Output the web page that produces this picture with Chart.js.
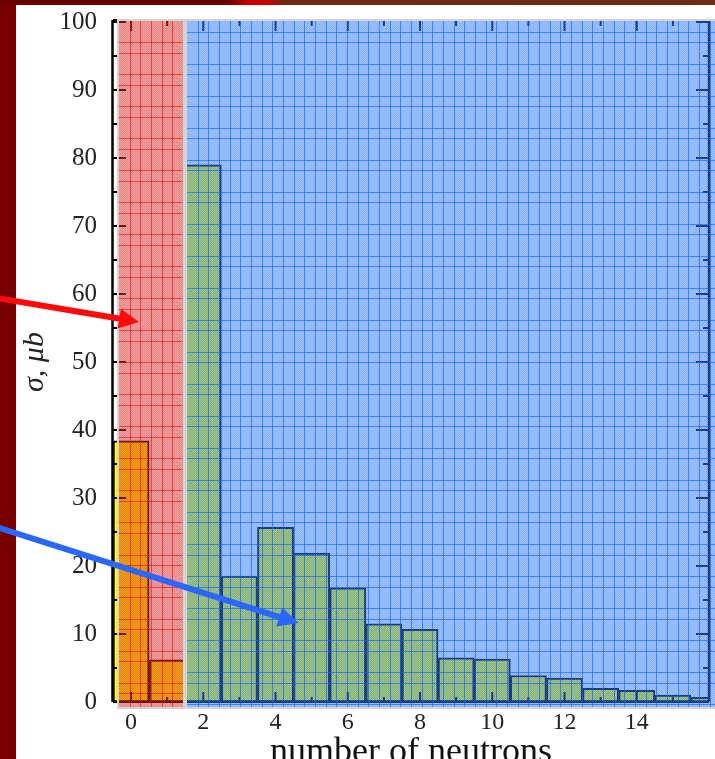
<!DOCTYPE html>
<html>
<head>
<meta charset="utf-8">
<script src="https://cdn.jsdelivr.net/npm/chart.js@4.4.1/dist/chart.umd.min.js"></script>
<style>
  html, body { margin: 0; padding: 0; background: #fff; }
  #wrap { position: relative; width: 715px; height: 759px; overflow: hidden; background: #fff; }
  #edgeLeft { position: absolute; left: 0; top: 0; width: 16px; height: 759px; background: #7a0000; }
  #edgeTop { position: absolute; left: 0; top: 0; width: 715px; height: 5px;
    background: linear-gradient(90deg, #6c0000 0, #6c0000 228px, #c40000 248px, #c80404 268px, #6d2a12 285px, #6d2c14 100%); }
  #c { position: absolute; left: 0; top: 0; }
</style>
</head>
<body>
<div id="wrap">
  <div id="edgeLeft"></div>
  <div id="edgeTop"></div>
  <canvas id="c" width="715" height="759"></canvas>
</div>
<script>
// Cross section per number of emitted neutrons
const neutrons = [0, 1, 2, 3, 4, 5, 6, 7, 8, 9, 10, 11, 12, 13, 14, 15, 16];
const sigma    = [38.4, 6.2, 79.0, 18.5, 25.7, 21.9, 16.8, 11.5, 10.7, 6.5, 6.3, 3.9, 3.5, 2.0, 1.7, 1.0, 0.7];

// Axis tick values
const xTicks = [0, 2, 4, 6, 8, 10, 12, 14];
const yTicks = [0, 10, 20, 30, 40, 50, 60, 70, 80, 90, 100];

// Shaded regions (in neutron-number units) and their tints
const regions = [
  { from: -0.34, to: 1.44, fill: 'rgba(211,0,0,0.46)', line: 'rgba(225,0,0,0.55)', skip: 1 },
  { from: 1.56, to: 16.2, fill: 'rgba(6,95,255,0.47)', line: 'rgba(0,95,255,0.6)', skip: 0 }
];

// Pointer arrows: tail and head in axis units
const arrows = [
  { from: [-3.7, 59.4], to: [0.22, 55.9], color: '#ff0a0a' },
  { from: [-3.7, 25.7], to: [4.63, 11.6], color: '#2a66ff' }
];

function checkerPattern(ctx) {
  const c = document.createElement('canvas');
  c.width = 2; c.height = 2;
  const g = c.getContext('2d');
  g.fillStyle = 'rgba(255,255,255,0.16)';
  g.fillRect(0, 0, 1, 1);
  g.fillRect(1, 1, 1, 1);
  return ctx.createPattern(c, 'repeat');
}

function drawArrow(ctx, x0, y0, x1, y1, color) {
  const lw = 6, headLen = 20, headHalf = 10;
  const a = Math.atan2(y1 - y0, x1 - x0);
  const bx = x1 - headLen * Math.cos(a), by = y1 - headLen * Math.sin(a);
  ctx.strokeStyle = color; ctx.fillStyle = color; ctx.lineWidth = lw; ctx.lineCap = 'butt';
  ctx.beginPath(); ctx.moveTo(x0, y0); ctx.lineTo(bx + Math.cos(a), by + Math.sin(a)); ctx.stroke();
  ctx.beginPath();
  ctx.moveTo(x1, y1);
  ctx.lineTo(bx + headHalf * Math.sin(a), by - headHalf * Math.cos(a));
  ctx.lineTo(bx - headHalf * Math.sin(a), by + headHalf * Math.cos(a));
  ctx.closePath(); ctx.fill();
}

const decor = {
  id: 'decor',
  afterDatasetsDraw(chart) {
    const ctx = chart.ctx;
    const { left, right, top, bottom } = chart.chartArea;
    const xs = chart.scales.x, ys = chart.scales.y;
    ctx.save();

    // frame
    ctx.strokeStyle = '#000';
    ctx.lineWidth = 2.5;
    ctx.beginPath();
    ctx.moveTo(left - 0.5, top - 2); ctx.lineTo(left - 0.5, bottom);
    ctx.moveTo(right, top - 2); ctx.lineTo(right, bottom);
    ctx.stroke();
    ctx.lineWidth = 2;
    ctx.beginPath();
    ctx.moveTo(left, bottom); ctx.lineTo(right, bottom);
    ctx.moveTo(left, top - 2); ctx.lineTo(right, top - 2);
    ctx.stroke();

    // inward tick marks
    ctx.lineWidth = 2;
    ctx.beginPath();
    for (let v = 0; v <= 100; v += 5) {
      const y = ys.getPixelForValue(v);
      const len = v % 10 === 0 ? 13 : 6;
      ctx.moveTo(left, y); ctx.lineTo(left + len, y);
      ctx.moveTo(right, y); ctx.lineTo(right - len, y);
    }
    for (let n = 0; n <= 15; n++) {
      const x = xs.getPixelForValue(n);
      const len = n % 2 === 0 ? 10 : 5;
      ctx.moveTo(x, bottom); ctx.lineTo(x, bottom - len);
      ctx.moveTo(x, top - 2); ctx.lineTo(x, top - 2 + len + 1);
    }
    ctx.stroke();

    // tinted regions with grid-paper texture
    const pat = checkerPattern(ctx);
    const pitch = 10.67;
    regions.forEach(r => {
      const x0 = Math.round(xs.getPixelForValue(r.from));
      const x1 = Math.min(chart.width, Math.round(xs.getPixelForValue(r.to)));
      const y0 = top - 1, y1 = bottom + 5;
      ctx.fillStyle = r.fill;
      ctx.fillRect(x0, y0, x1 - x0, y1 - y0);
      ctx.fillStyle = pat;
      ctx.fillRect(x0, y0, x1 - x0, y1 - y0);
      ctx.strokeStyle = r.line;
      ctx.lineWidth = 1;
      ctx.beginPath();
      for (let x = x0 + pitch; x < x1 - 1; x += pitch) {
        const px = Math.round(x) + 0.5;
        ctx.moveTo(px, y0); ctx.lineTo(px, y1);
      }
      for (let k = 1; y0 + k * pitch < y1 - 1; k++) {
        if (k % 3 === r.skip) continue;
        const py = Math.round(y0 + k * pitch) + 0.5;
        ctx.moveTo(x0, py); ctx.lineTo(x1, py);
      }
      ctx.stroke();
      ctx.strokeStyle = '#d4d4d4';
      ctx.lineWidth = 2;
      ctx.strokeRect(x0 - 1, y0 - 1, x1 - x0 + 2, y1 - y0 + 2);
    });
    ctx.restore();
  },
  afterDraw(chart) {
    const ctx = chart.ctx;
    const xs = chart.scales.x, ys = chart.scales.y;
    ctx.save();
    arrows.forEach(a => {
      drawArrow(ctx,
        xs.getPixelForValue(a.from[0]), ys.getPixelForValue(a.from[1]),
        xs.getPixelForValue(a.to[0]), ys.getPixelForValue(a.to[1]), a.color);
    });
    ctx.restore();
  }
};

new Chart(document.getElementById('c'), {
  type: 'bar',
  data: {
    datasets: [{
      data: neutrons.map((n, i) => ({ x: n, y: sigma[i] })),
      backgroundColor: '#ffff00',
      borderColor: '#000',
      borderWidth: 2,
      borderSkipped: false,
      barPercentage: 1,
      categoryPercentage: 1,
      clip: 0
    }]
  },
  options: {
    responsive: false,
    animation: false,
    events: [],
    layout: { padding: { left: 0, right: 6, top: 22, bottom: 0 } },
    plugins: { legend: { display: false }, tooltip: { enabled: false } },
    scales: {
      x: {
        type: 'linear', min: -0.5, max: 16, offset: false,
        grid: { display: false, drawTicks: false },
        border: { display: false },
        afterBuildTicks: s => { s.ticks = xTicks.map(v => ({ value: v })); },
        afterFit: s => { s.height = 57; s.paddingLeft = 0; s.paddingRight = 0; },
        ticks: { padding: 6, maxRotation: 0, autoSkip: false, color: '#222',
                 font: { family: 'Liberation Serif', size: 24 } },
        title: { display: true, text: 'number of neutrons', color: '#111', padding: 0,
                 font: { family: 'Liberation Serif', size: 36, lineHeight: '12px' } }
      },
      y: {
        min: 0, max: 100,
        grid: { display: false, drawTicks: false },
        border: { display: false },
        afterBuildTicks: s => { s.ticks = yTicks.map(v => ({ value: v })); },
        afterFit: s => { s.width = 113; s.paddingTop = 0; s.paddingBottom = 0; },
        ticks: { padding: 16, color: '#222', font: { family: 'Liberation Serif', size: 25 } },
        title: { display: true, text: 'σ, μb', color: '#222', padding: { top: 20, bottom: 0 },
                 font: { family: 'Liberation Serif', size: 30, style: 'italic', lineHeight: '30px' } }
      }
    }
  },
  plugins: [decor]
});
</script>
</body>
</html>
